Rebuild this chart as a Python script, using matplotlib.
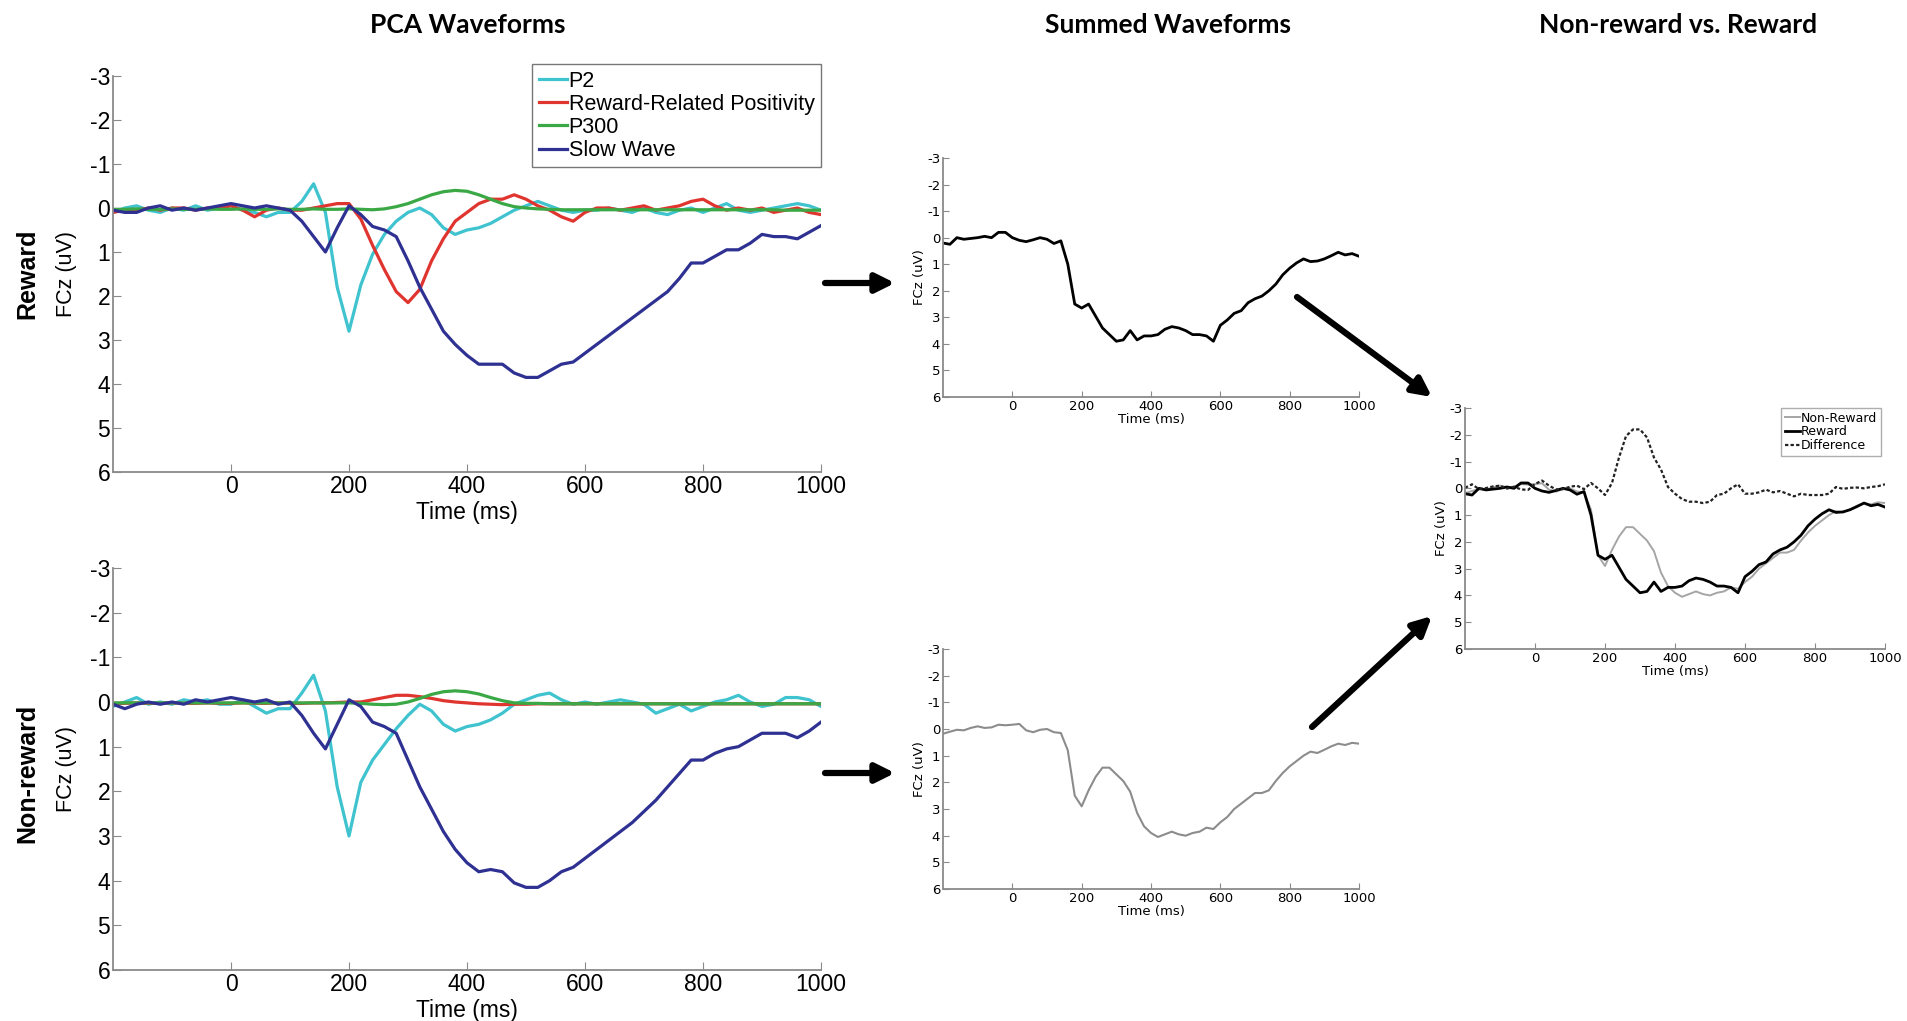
import numpy as np
import matplotlib.pyplot as plt
from matplotlib.patches import FancyArrowPatch

plt.rcParams["axes.unicode_minus"] = False

W, H = 1908, 1021

# time axis (ms), 20 ms steps from -200 to 1000
time_ms = np.arange(-200, 1001, 20)

# ---- PCA waveforms, Reward ----
rew_p2 = [0.1, 0.0, -0.05, 0.05, 0.1, 0.0, 0.05, -0.05, 0.05, 0.0,
          -0.05, 0.05, 0.1, 0.2, 0.1, 0.1, -0.15, -0.55, 0.1, 1.8,
          2.8, 1.75, 1.05, 0.6, 0.3, 0.1, 0.0, 0.15, 0.45, 0.6,
          0.5, 0.45, 0.35, 0.2, 0.05, -0.05, -0.15, -0.05, 0.05, 0.1,
          0.05, 0.05, 0.0, 0.05, 0.1, 0.0, 0.1, 0.15, 0.05, 0.0,
          0.1, 0.0, -0.1, 0.05, 0.1, 0.05, 0.0, -0.05, -0.1, -0.05,
          0.05]
rew_rrp = [0.1, 0.05, 0.05, 0.0, 0.05, 0.0, 0.0, 0.05, 0.0, 0.0,
           -0.05, 0.05, 0.2, 0.05, 0.0, 0.05, 0.05, 0.0, -0.05, -0.1,
           -0.1, 0.25, 0.85, 1.4, 1.9, 2.15, 1.85, 1.2, 0.7, 0.3,
           0.1, -0.1, -0.2, -0.2, -0.3, -0.2, -0.05, 0.05, 0.2, 0.3,
           0.1, 0.0, 0.0, 0.05, 0.0, -0.05, 0.05, 0.0, -0.05, -0.15,
           -0.2, -0.05, 0.05, 0.0, 0.05, 0.0, 0.1, 0.05, 0.0, 0.1,
           0.15]
rew_p300 = [0.03, 0.03, 0.02, 0.03, 0.03, 0.02, 0.03, 0.03, 0.02, 0.03,
            0.03, 0.02, 0.03, 0.03, 0.02, 0.03, 0.03, 0.02, 0.03, 0.03,
            0.02, 0.03, 0.04, 0.02, -0.03, -0.1, -0.2, -0.3, -0.37, -0.4,
            -0.38, -0.3, -0.2, -0.1, -0.03, 0.0, 0.02, 0.03, 0.04, 0.04,
            0.04, 0.04, 0.04, 0.04, 0.04, 0.04, 0.04, 0.04, 0.04, 0.04,
            0.04, 0.04, 0.04, 0.04, 0.04, 0.04, 0.04, 0.05, 0.05, 0.05,
            0.05]
rew_slow = [0.05, 0.1, 0.1, 0.0, -0.05, 0.05, 0.0, 0.05, 0.0, -0.05,
            -0.1, -0.05, 0.0, -0.05, 0.0, 0.05, 0.3, 0.65, 1.0, 0.45,
            -0.05, 0.15, 0.42, 0.5, 0.65, 1.2, 1.8, 2.3, 2.8, 3.1,
            3.35, 3.55, 3.55, 3.55, 3.75, 3.85, 3.85, 3.7, 3.55, 3.5,
            3.3, 3.1, 2.9, 2.7, 2.5, 2.3, 2.1, 1.9, 1.6, 1.25,
            1.25, 1.1, 0.95, 0.95, 0.8, 0.6, 0.65, 0.65, 0.7, 0.55,
            0.4]

# ---- PCA waveforms, Non-reward ----
non_p2 = [0.1, 0.0, -0.1, 0.05, 0.0, 0.05, -0.05, 0.0, -0.05, 0.05,
          0.05, -0.05, 0.1, 0.25, 0.15, 0.15, -0.2, -0.6, 0.2, 1.9,
          3.0, 1.8, 1.3, 0.95, 0.6, 0.3, 0.05, 0.2, 0.5, 0.65,
          0.55, 0.5, 0.4, 0.25, 0.05, -0.05, -0.15, -0.2, -0.05, 0.05,
          0.0, 0.05, 0.0, -0.05, 0.0, 0.05, 0.25, 0.15, 0.05, 0.2,
          0.1, 0.0, -0.05, -0.15, 0.0, 0.1, 0.05, -0.1, -0.1, -0.05,
          0.1]
non_rrp = [0.03, 0.03, 0.02, 0.03, 0.03, 0.02, 0.03, 0.03, 0.02, 0.03,
           0.03, 0.02, 0.03, 0.03, 0.02, 0.03, 0.03, 0.02, 0.02, 0.01,
           0.0, 0.0, -0.05, -0.1, -0.15, -0.15, -0.12, -0.08, -0.03, 0.0,
           0.02, 0.04, 0.05, 0.06, 0.05, 0.05, 0.04, 0.04, 0.04, 0.04,
           0.04, 0.04, 0.04, 0.04, 0.04, 0.04, 0.04, 0.04, 0.04, 0.04,
           0.04, 0.04, 0.04, 0.04, 0.04, 0.04, 0.04, 0.04, 0.04, 0.04,
           0.04]
non_p300 = [0.02, 0.02, 0.02, 0.02, 0.02, 0.02, 0.02, 0.02, 0.02, 0.02,
            0.02, 0.02, 0.02, 0.02, 0.02, 0.02, 0.02, 0.02, 0.02, 0.02,
            0.02, 0.03, 0.05, 0.06, 0.05, 0.0, -0.08, -0.17, -0.23, -0.25,
            -0.23, -0.18, -0.1, -0.03, 0.02, 0.03, 0.03, 0.04, 0.04, 0.04,
            0.04, 0.04, 0.04, 0.04, 0.04, 0.04, 0.04, 0.04, 0.04, 0.04,
            0.04, 0.04, 0.04, 0.04, 0.04, 0.04, 0.04, 0.04, 0.04, 0.04,
            0.04]
non_slow = [0.05, 0.15, 0.05, 0.0, 0.05, 0.0, 0.05, -0.05, 0.0, -0.05,
            -0.1, -0.05, 0.0, -0.05, 0.05, 0.0, 0.3, 0.7, 1.05, 0.5,
            -0.05, 0.1, 0.45, 0.55, 0.7, 1.3, 1.9, 2.4, 2.9, 3.3,
            3.6, 3.8, 3.75, 3.8, 4.05, 4.15, 4.15, 4.0, 3.8, 3.7,
            3.5, 3.3, 3.1, 2.9, 2.7, 2.45, 2.2, 1.9, 1.6, 1.3,
            1.3, 1.15, 1.05, 1.0, 0.85, 0.7, 0.7, 0.7, 0.8, 0.65,
            0.45]

# ---- summed waveforms ----
sum_reward = [0.2, 0.25, 0.0, 0.06, 0.03, 0.0, -0.05, 0.0, -0.2, -0.2,
              0.0, 0.1, 0.15, 0.08, 0.0, 0.06, 0.22, 0.12, 1.0, 2.5,
              2.65, 2.5, 2.95, 3.4, 3.65, 3.9, 3.85, 3.5, 3.85, 3.7,
              3.7, 3.65, 3.45, 3.35, 3.4, 3.5, 3.65, 3.65, 3.7, 3.9,
              3.3, 3.1, 2.85, 2.75, 2.45, 2.3, 2.2, 2.0, 1.75, 1.4,
              1.15, 0.95, 0.8, 0.9, 0.88, 0.8, 0.68, 0.55, 0.65, 0.6,
              0.7]
sum_nonreward = [0.18, 0.1, 0.03, 0.05, -0.04, -0.1, -0.04, -0.06, -0.16, -0.14,
                 -0.16, -0.19, 0.05, 0.12, 0.03, 0.0, 0.12, 0.15, 0.8, 2.5,
                 2.9, 2.3, 1.8, 1.45, 1.45, 1.7, 1.95, 2.35, 3.15, 3.65,
                 3.9, 4.05, 3.95, 3.85, 3.95, 4.0, 3.9, 3.85, 3.7, 3.75,
                 3.5, 3.3, 3.0, 2.8, 2.6, 2.4, 2.4, 2.3, 1.95, 1.65,
                 1.4, 1.2, 1.0, 0.85, 0.9, 0.78, 0.65, 0.55, 0.6, 0.52,
                 0.55]

pca_labels = ["P2", "Reward-Related Positivity", "P300", "Slow Wave"]
pca_colors = ["#3fc3cf", "#e0342f", "#3aa845", "#2e3192"]
x_ticks = [0, 200, 400, 600, 800, 1000]
y_ticks = [-3, -2, -1, 0, 1, 2, 3, 4, 5, 6]


def box(l, t, r, b):
    return [l / W, 1 - b / H, (r - l) / W, (b - t) / H]


def style_axes(ax, size, fam, tlen=4, ylab_size=None, ylab_pad=2, xlab_pad=0):
    ax.set_xlim(-200, 1000)
    ax.set_ylim(6, -3)
    ax.set_xticks(x_ticks)
    ax.set_yticks(y_ticks)
    for s in ["top", "right"]:
        ax.spines[s].set_visible(False)
    for s in ["left", "bottom"]:
        ax.spines[s].set_color("#8a8a8a")
        ax.spines[s].set_linewidth(1.3)
    ax.tick_params(direction="in", length=tlen, color="#8a8a8a", labelsize=size, pad=2)
    for lab in ax.get_xticklabels() + ax.get_yticklabels():
        lab.set_family(fam)
    ax.set_xlabel("Time (ms)", fontsize=size, family=fam, labelpad=xlab_pad)
    ax.set_ylabel("FCz (uV)", fontsize=ylab_size or size, family=fam, labelpad=ylab_pad)


fig = plt.figure(figsize=(W / 100, H / 100), dpi=100)
big_font = ["Liberation Sans Narrow", "Liberation Sans"]
small_font = ["DejaVu Sans"]

# PCA panels
ax1 = fig.add_axes(box(113, 76, 821, 472))
for vals, c, lab in zip([rew_p2, rew_rrp, rew_p300, rew_slow], pca_colors, pca_labels):
    ax1.plot(time_ms, vals, color=c, lw=2.3, label=lab)
style_axes(ax1, 16.5, big_font, tlen=6, ylab_size=15.5, ylab_pad=9, xlab_pad=2)
leg = ax1.legend(loc="upper right", bbox_to_anchor=(1.0, 1.03), borderaxespad=0,
                 prop={"family": "Liberation Sans", "size": 15.5}, handlelength=1.3,
                 handletextpad=0.1, labelspacing=0.1, borderpad=0.3, fancybox=False)
leg.get_frame().set_edgecolor("#555555")
leg.get_frame().set_linewidth(1.0)

ax2 = fig.add_axes(box(113, 568, 821, 970))
for vals, c in zip([non_p2, non_rrp, non_p300, non_slow], pca_colors):
    ax2.plot(time_ms, vals, color=c, lw=2.3)
style_axes(ax2, 16.5, big_font, tlen=6, ylab_size=15.5, ylab_pad=9, xlab_pad=2)

# summed panels
ax3 = fig.add_axes(box(943, 158, 1359, 397))
ax3.plot(time_ms, sum_reward, color="black", lw=2.0)
style_axes(ax3, 9.5, small_font, ylab_pad=1)

ax4 = fig.add_axes(box(943, 649, 1359, 889))
ax4.plot(time_ms, sum_nonreward, color="#8c8c8c", lw=1.5)
style_axes(ax4, 9.5, small_font, ylab_pad=1)

# comparison panel
difference = np.array(sum_nonreward) - np.array(sum_reward)
ax5 = fig.add_axes(box(1465, 408, 1885, 649))
ax5.plot(time_ms, sum_nonreward, color="#a5a5a5", lw=1.4, label="Non-Reward")
ax5.plot(time_ms, sum_reward, color="black", lw=2.0, label="Reward")
ax5.plot(time_ms, difference, color="#222222", lw=1.6, ls=(0, (1.5, 1)), label="Difference")
style_axes(ax5, 9.5, small_font, ylab_pad=1)
leg2 = ax5.legend(loc="upper right", bbox_to_anchor=(0.99, 1.0), borderaxespad=0,
                  prop={"family": "DejaVu Sans", "size": 9}, handlelength=1.2,
                  handletextpad=0.1, labelspacing=0.05, borderpad=0.3, fancybox=False)
leg2.get_frame().set_edgecolor("#999999")

# column titles and row labels
for x, txt in [(468, "PCA Waveforms"), (1168, "Summed Waveforms"), (1678, "Non-reward vs. Reward")]:
    fig.text(x / W, 1 - 25 / H, txt, ha="center", va="center", fontsize=19,
             fontweight="bold", family="Lato")
fig.text(27 / W, 1 - 274 / H, "Reward", rotation=90, ha="center", va="center",
         fontsize=18, fontweight="bold", family="Liberation Sans")
fig.text(27 / W, 1 - 773 / H, "Non-reward", rotation=90, ha="center", va="center",
         fontsize=18, fontweight="bold", family="Liberation Sans")

# arrows between panels
arrows = [((825, 283), (895, 283)), ((825, 773), (895, 773)),
          ((1297, 297), (1432, 397)), ((1312, 727), (1432, 616))]
for (x0, y0), (x1, y1) in arrows:
    fig.patches.append(FancyArrowPatch((x0 / W, 1 - y0 / H), (x1 / W, 1 - y1 / H),
                                       transform=fig.transFigure, arrowstyle="-|>",
                                       mutation_scale=28, lw=4.5, color="black",
                                       shrinkA=0, shrinkB=0))

fig.savefig("out.png", dpi=100)
